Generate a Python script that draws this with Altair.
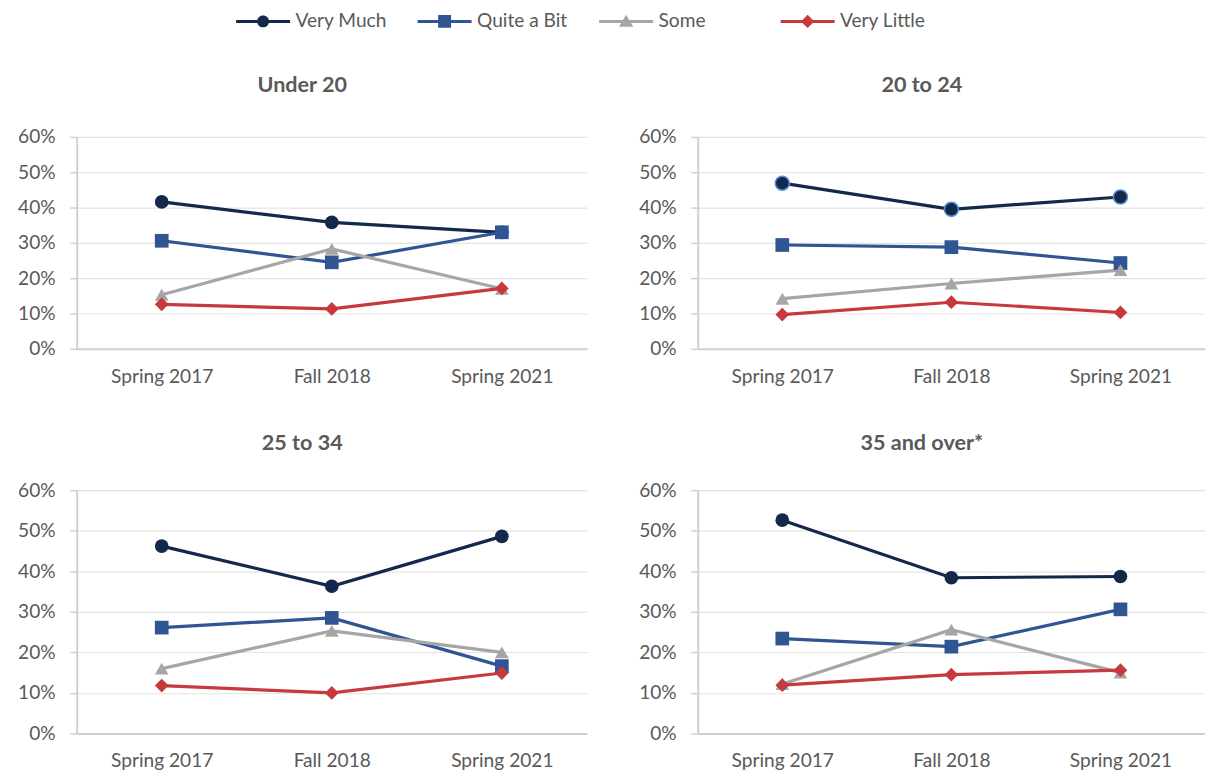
import altair as alt
import pandas as pd

periods = ["Spring 2017", "Fall 2018", "Spring 2021"]
series = ["Very Much", "Quite a Bit", "Some", "Very Little"]
groups = ["Under 20", "20 to 24", "25 to 34", "35 and over*"]

under20_very_much = [41.6, 35.8, 33.0]
under20_quite_a_bit = [30.6, 24.5, 33.0]
under20_some = [15.3, 28.3, 17.0]
under20_very_little = [12.6, 11.3, 17.1]

age20_24_very_much = [46.9, 39.5, 43.0]
age20_24_quite_a_bit = [29.4, 28.8, 24.3]
age20_24_some = [14.2, 18.5, 22.3]
age20_24_very_little = [9.7, 13.2, 10.3]

age25_34_very_much = [46.2, 36.3, 48.6]
age25_34_quite_a_bit = [26.1, 28.5, 16.6]
age25_34_some = [16.0, 25.3, 20.0]
age25_34_very_little = [11.8, 10.0, 14.9]

age35_over_very_much = [52.6, 38.4, 38.7]
age35_over_quite_a_bit = [23.4, 21.4, 30.6]
age35_over_some = [12.2, 25.6, 15.0]
age35_over_very_little = [11.9, 14.5, 15.6]

table = {
    "Under 20": [under20_very_much, under20_quite_a_bit, under20_some, under20_very_little],
    "20 to 24": [age20_24_very_much, age20_24_quite_a_bit, age20_24_some, age20_24_very_little],
    "25 to 34": [age25_34_very_much, age25_34_quite_a_bit, age25_34_some, age25_34_very_little],
    "35 and over*": [age35_over_very_much, age35_over_quite_a_bit, age35_over_some, age35_over_very_little],
}

rows = []
for g in groups:
    for s, vals in zip(series, table[g]):
        for p, v in zip(periods, vals):
            rows.append({"group": g, "series": s, "period": p, "value": v,
                         "order": series.index(s)})
df = pd.DataFrame(rows)
legend_df = pd.DataFrame({"series": series})

colors = ["#13284A", "#2F5592", "#A6A6A6", "#C7393D"]
shapes = ["circle", "square", "triangle-up", "diamond"]
sizes = [195, 195, 235, 205]

# legend symbols: a line segment with the marker in the middle
BAR = "M-2.5,-0.14H2.5V0.14H-2.5Z "
legend_paths = [
    BAR + "M-0.55,0A0.55,0.55 0 1,1 0.55,0A0.55,0.55 0 1,1 -0.55,0Z",
    BAR + "M-0.6,-0.6H0.6V0.6H-0.6Z",
    BAR + "M0,-0.62L0.66,0.5L-0.66,0.5Z",
    BAR + "M0,-0.62L0.62,0L0,0.62L-0.62,0Z",
]

FONT = "Lato"
TXT = "#595959"
FS = 19.5


def panel(g, w, h, title_offset):
    d = df[df["group"] == g]
    x = alt.X("period:N", sort=periods,
              scale=alt.Scale(type="point", padding=0.5),
              axis=alt.Axis(title=None, labelAngle=0, ticks=False, grid=False,
                            domainColor="#D0D0D0", domainWidth=2,
                            labelFontSize=FS, labelColor=TXT, labelPadding=19,
                            labelFont=FONT))
    y = alt.Y("value:Q", scale=alt.Scale(domain=[0, 60]),
              axis=alt.Axis(title=None, values=[0, 10, 20, 30, 40, 50, 60],
                            labelExpr="datum.value + '%'",
                            tickColor="#D0D0D0", tickSize=7, tickWidth=1.5,
                            domainColor="#D0D0D0", domainWidth=2,
                            gridColor="#E3E3E3", gridWidth=1.2,
                            labelFontSize=FS, labelColor=TXT, labelPadding=15,
                            labelFont=FONT))
    color = alt.Color("series:N", sort=series,
                      scale=alt.Scale(domain=series, range=colors), legend=None)
    shape = alt.Shape("series:N", sort=series,
                      scale=alt.Scale(domain=series, range=shapes), legend=None)
    size = alt.Size("series:N", scale=alt.Scale(domain=series, range=sizes), legend=None)
    lines = alt.Chart(d).mark_line(strokeWidth=3.25).encode(
        x=x, y=y, color=color, detail="series:N", order="order:Q")
    pts = alt.Chart(d).mark_point(filled=True, opacity=1).encode(
        x=x, y=y, color=color, shape=shape, size=size, order="order:Q")
    layers = [lines, pts]
    if g == "20 to 24":
        ring = alt.Chart(d).transform_filter(alt.datum.series == "Very Much").mark_point(
            filled=True, opacity=1, stroke="#5B8FD6", strokeWidth=1.6, size=205,
            shape="circle").encode(x=x, y=y, color=color)
        layers.append(ring)
    return alt.layer(*layers).properties(
        width=w, height=h,
        title=alt.TitleParams(g, fontSize=22, fontWeight="bold", color=TXT,
                              font=FONT, offset=title_offset, anchor="middle",
                              frame="bounds"))


legend_opts = dict(title=None, orient="none", legendX=179, legendY=0,
                   direction="horizontal", columns=4, gridAlign="all",
                   columnPadding=30, labelOffset=22,
                   labelFontSize=FS, labelColor=TXT, labelFont=FONT,
                   symbolSize=484, symbolStrokeWidth=0,
                   symbolOpacity=1, padding=0)

legend_chart = alt.Chart(legend_df).mark_point(filled=True, opacity=0).encode(
    color=alt.Color("series:N", sort=series,
                    scale=alt.Scale(domain=series, range=colors),
                    legend=alt.Legend(**legend_opts)),
    shape=alt.Shape("series:N", sort=series,
                    scale=alt.Scale(domain=series, range=legend_paths),
                    legend=alt.Legend(**legend_opts)),
).properties(width=1150, height=23)

top = alt.hconcat(panel("Under 20", 520, 216, 31), panel("20 to 24", 517, 216, 31), spacing=52)
bottom = alt.hconcat(panel("25 to 34", 520, 248, 26), panel("35 and over*", 517, 248, 26), spacing=52)
grid = alt.vconcat(top, bottom, spacing=47)

chart = alt.vconcat(legend_chart, grid, spacing=42).resolve_scale(
    color="independent", shape="independent", size="independent"
).properties(
    padding={"left": 9, "top": -5, "right": 0, "bottom": 0}
).configure_view(stroke=None)

chart.save("out.html", embed_options={"renderer": "svg", "actions": False})
